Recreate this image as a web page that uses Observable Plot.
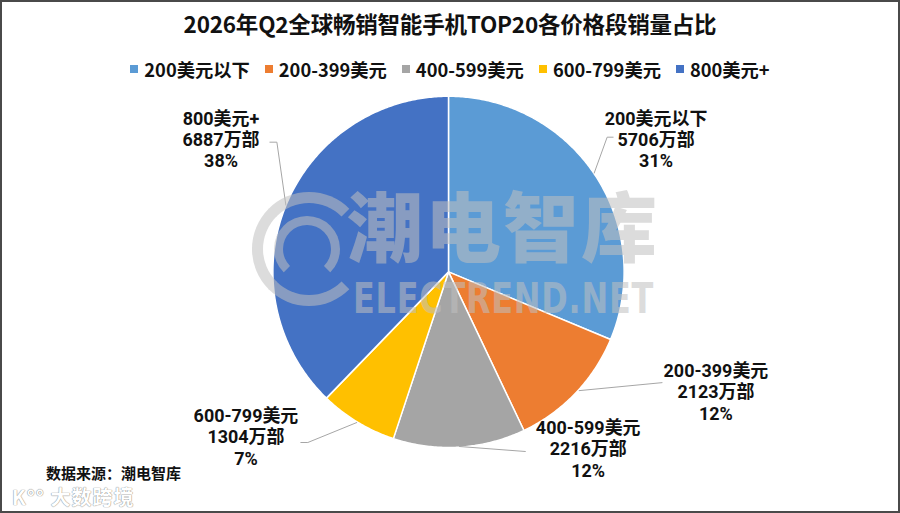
<!DOCTYPE html>
<html><head><meta charset="utf-8">
<script src="https://cdn.jsdelivr.net/npm/d3@7"></script>
<script src="https://cdn.jsdelivr.net/npm/@observablehq/plot@0.6"></script>
<style>
html,body{margin:0;padding:0;background:#fff;}
#wrap{position:relative;width:900px;height:513px;box-sizing:border-box;border:2px solid #4a4a4a;overflow:hidden;font-family:"Noto Sans CJK SC","Noto Sans",sans-serif;}
#chart{position:absolute;left:-2px;top:-2px;}
.title{position:absolute;left:0;top:5px;width:896px;text-align:center;font-size:22.5px;font-weight:700;color:#111;letter-spacing:-0.2px;}
.legend{position:absolute;left:0;top:54px;width:896px;display:flex;justify-content:center;gap:15px;font-size:18.3px;font-weight:700;color:#111;}
.legend span.item{display:flex;align-items:center;}
.legend i{display:inline-block;width:8px;height:8px;margin-right:6px;}
.wm{position:absolute;pointer-events:none;}
.wmcn{left:345px;top:183px;font-size:76px;font-weight:900;color:#c0c0c0;opacity:0.55;letter-spacing:2px;line-height:1;}
.wmen{left:351px;top:276px;font-size:42px;font-weight:700;font-family:"DejaVu Sans",sans-serif;color:#c0c0c0;opacity:0.55;letter-spacing:1px;line-height:1;transform:scaleX(0.76);transform-origin:left top;}
.ring1{left:250px;top:190px;width:92px;height:92px;border:11px solid #c0c0c0;border-radius:50%;border-right-color:transparent;opacity:0.55;}
.ring2{left:272px;top:214px;width:48px;height:48px;border:9px solid #c0c0c0;border-radius:50%;border-bottom-color:transparent;opacity:0.55;}
.caption{position:absolute;left:44px;top:460px;font-size:15px;font-weight:700;color:#111;}
.wm2{position:absolute;left:10px;top:480px;font-size:20px;font-weight:700;color:#fff;text-shadow:0 0 1px #888,0 0 1px #888;letter-spacing:1px;}
</style></head>
<body>
<div id="wrap">
  <div id="chart"></div>
  <div class="wm ring1"></div>
  <div class="wm ring2"></div>
  <div class="wm wmcn">潮电智库</div>
  <div class="wm wmen">ELECTREND.NET</div>
  <div class="title">2026年Q2全球畅销智能手机TOP20各价格段销量占比</div>
  <div class="legend" id="legend"></div>
  <div class="caption">数据来源：潮电智库</div>
  <div class="wm2">K°° 大数跨境</div>
</div>
<script>
// ---- data ----
const categories = ["200美元以下", "200-399美元", "400-599美元", "600-799美元", "800美元+"];
const values = [5706, 2123, 2216, 1304, 6887];
const unit = "万部";
const colors = ["#5B9BD5", "#ED7D31", "#A5A5A5", "#FFC000", "#4472C4"];

// ---- layout ----
const W = 900, H = 513;
const center = [449, 272];
const radius = 176;
const labelPos = [[657, 139], [717, 392], [589, 449], [246, 437], [221, 139]];
const leaders = [
  [[614, 137], [608, 137], [595, 173]],
  [[663, 383], [580, 391]],
  [[526, 452], [460, 447]],
  [[301, 443], [308, 443], [357, 423]],
  [[270, 142], [277, 142], [286, 205]]
];

// legend
const leg = document.getElementById("legend");
categories.forEach((c, i) => {
  const s = document.createElement("span");
  s.className = "item";
  s.innerHTML = `<i style="background:${colors[i]}"></i>${c}`;
  leg.appendChild(s);
});

// slices
const total = d3.sum(values);
const arcs = d3.pie().sort(null).value(d => d)(values);
const slicePts = [];
arcs.forEach((a, i) => {
  const cat = categories[i];
  slicePts.push({cat, x: center[0], y: center[1]});
  const n = Math.max(2, Math.ceil((a.endAngle - a.startAngle) / 0.01));
  for (let k = 0; k <= n; k++) {
    const t = a.startAngle + (a.endAngle - a.startAngle) * k / n;
    slicePts.push({cat, x: center[0] + radius * Math.sin(t), y: center[1] - radius * Math.cos(t)});
  }
  slicePts.push({cat, x: center[0], y: center[1]});
});

const labels = categories.map((c, i) => ({
  cat: c,
  x: labelPos[i][0],
  y: labelPos[i][1],
  text: `${c}\n${values[i]}${unit}\n${Math.round(values[i] / total * 100)}%`
}));

const leaderPts = leaders.flatMap((pts, i) => pts.map(p => ({cat: categories[i], x: p[0], y: p[1]})));

const chart = Plot.plot({
  width: W,
  height: H,
  margin: 0,
  x: {domain: [0, W], range: [0, W], axis: null},
  y: {domain: [0, H], range: [0, H], axis: null},
  color: {domain: categories, range: colors},
  style: {background: "transparent"},
  marks: [
    Plot.line(slicePts, {x: "x", y: "y", z: "cat", fill: "cat", stroke: "white", strokeWidth: 1.5, curve: "linear"}),
    Plot.line(leaderPts, {x: "x", y: "y", z: "cat", stroke: "#a6a6a6", strokeWidth: 1}),
    Plot.text(labels, {x: "x", y: "y", text: "text", fontSize: 18, fontWeight: 700, fill: "#111", lineHeight: 1.19, fontFamily: "Roboto, 'Noto Sans CJK SC'"})
  ]
});
document.getElementById("chart").appendChild(chart);
</script>
</body></html>
